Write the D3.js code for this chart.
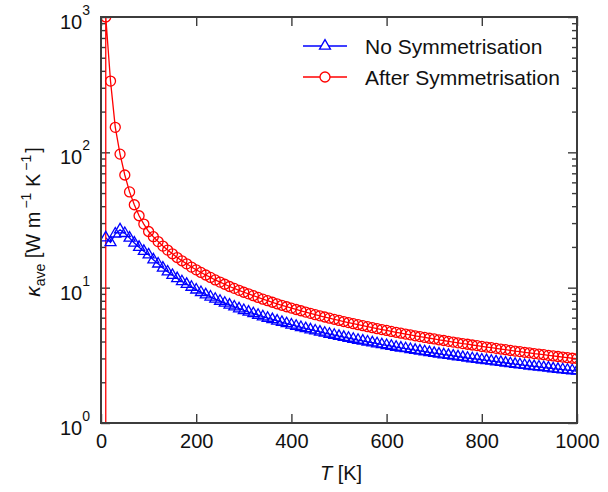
<!DOCTYPE html>
<html>
<head>
<meta charset="utf-8">
<script src="https://cdn.jsdelivr.net/npm/d3@7/dist/d3.min.js"></script>
<style>
    body { margin: 0; background: #fff; }
    svg text { font-family: Arial, "Liberation Sans", sans-serif; fill: #111; }
</style>
</head>
<body>
<div id="chart"></div>
<script>
//Datos
const temps = [10,20,30,40,50,60,70,80,90,100,110,120,130,140,150,160,170,180,190,200,
    210,220,230,240,250,260,270,280,290,300,310,320,330,340,350,360,370,380,390,400,
    410,420,430,440,450,460,470,480,490,500,510,520,530,540,550,560,570,580,590,600,
    610,620,630,640,650,660,670,680,690,700,710,720,730,740,750,760,770,780,790,800,
    810,820,830,840,850,860,870,880,890,900,910,920,930,940,950,960,970,980,990,1000];

const kappaNoSym = [23.4,21.6,25.0,26.8,25.2,23.3,21.4,19.9,18.6,17.5,16.1,15.0,14.0,13.1,12.35,11.7,11.1,10.6,10.1,9.64,
    9.24,8.88,8.55,8.24,7.96,7.70,7.45,7.22,7.00,6.80,6.61,6.44,6.27,6.11,5.96,5.82,5.68,5.55,5.43,5.31,
    5.20,5.09,4.99,4.89,4.80,4.71,4.62,4.54,4.46,4.38,4.31,4.24,4.17,4.10,4.04,3.98,3.92,3.86,3.80,3.75,
    3.70,3.64,3.59,3.55,3.50,3.45,3.41,3.37,3.32,3.28,3.24,3.20,3.17,3.13,3.09,3.06,3.02,2.99,2.96,2.93,
    2.90,2.87,2.84,2.81,2.78,2.75,2.72,2.70,2.67,2.64,2.62,2.60,2.57,2.55,2.52,2.50,2.48,2.46,2.44,2.42];

//La serie simetrizada empieza con un valor nulo en T = 10 K (línea vertical)
const tempsSym = [10].concat(temps);
const kappaSym = [0, 1050,336,153,97,68,51,41,34,29.5,26.0,23.8,21.9,20.3,18.95,17.8,16.7,15.8,15.0,14.2,13.55,
    12.95,12.4,11.9,11.4,11.0,10.6,10.2,9.88,9.56,9.25,9.00,8.73,8.47,8.22,8.01,7.80,7.60,7.41,7.23,7.06,
    6.90,6.75,6.60,6.46,6.32,6.19,6.07,5.95,5.84,5.73,5.62,5.52,5.42,5.33,5.24,5.15,5.06,4.98,4.90,4.83,
    4.75,4.68,4.61,4.54,4.48,4.41,4.35,4.29,4.23,4.18,4.12,4.07,4.01,3.96,3.91,3.86,3.82,3.77,3.73,3.68,
    3.64,3.60,3.56,3.52,3.48,3.44,3.40,3.37,3.33,3.30,3.26,3.23,3.20,3.16,3.13,3.10,3.07,3.04,3.01,2.99];

const xTicks = [0, 200, 400, 600, 800, 1000];
const yMajor = [1, 10, 100, 1000];
const yExponents = ['0', '1', '2', '3'];
const seriesNames = ['No Symmetrisation', 'After Symmetrisation'];

//Colores fijos
const COLOR_BLUE = '#0000ff',
    COLOR_RED = '#ff0000',
    COLOR_AXIS = '#3c3c3c';

let width = 608,
    height = 492,
    margin = { top: 17, right: 31, bottom: 69, left: 101 };

let innerW = width - margin.left - margin.right,
    innerH = height - margin.top - margin.bottom;

let svg = d3.select('#chart')
    .append('svg')
        .attr('width', width)
        .attr('height', height);

let x = d3.scaleLinear().domain([0, 1000]).range([0, innerW]);
let y = d3.scaleLog().domain([1, 1000]).range([innerH, 0]).clamp(true);

let chart = svg.append('g')
    .attr('transform', 'translate(' + margin.left + ',' + margin.top + ')');

svg.append('defs').append('clipPath')
    .attr('id', 'plot-clip')
    .append('rect')
        .attr('width', innerW)
        .attr('height', innerH);

//Ejes: ticks hacia dentro en los cuatro lados
let minorTicks = y.ticks().filter(function(d) { return yMajor.indexOf(d) < 0; });

chart.append('g')
    .attr('class', 'x-axis')
    .attr('transform', 'translate(0,' + innerH + ')')
    .call(d3.axisBottom(x).tickValues(xTicks).tickFormat(d3.format('d')).tickSize(-9).tickPadding(11).tickSizeOuter(0));

chart.append('g')
    .call(d3.axisTop(x).tickValues(xTicks).tickSize(-9).tickFormat('').tickSizeOuter(0));

chart.append('g')
    .call(d3.axisLeft(y).tickValues(yMajor).tickSize(-9).tickFormat('').tickSizeOuter(0));
chart.append('g')
    .call(d3.axisLeft(y).tickValues(minorTicks).tickSize(-5).tickFormat('').tickSizeOuter(0));

chart.append('g')
    .attr('transform', 'translate(' + innerW + ',0)')
    .call(d3.axisRight(y).tickValues(yMajor).tickSize(-9).tickFormat('').tickSizeOuter(0));
chart.append('g')
    .attr('transform', 'translate(' + innerW + ',0)')
    .call(d3.axisRight(y).tickValues(minorTicks).tickSize(-5).tickFormat('').tickSizeOuter(0));

chart.selectAll('.domain').remove();
chart.selectAll('.tick line').attr('stroke', COLOR_AXIS).attr('stroke-width', 1.4);
chart.selectAll('.x-axis text')
    .attr('font-size', '20px')
    .attr('fill', '#111');

//Etiquetas del eje y: 10^n
let yLabels = chart.selectAll('.ylabel')
    .data(yMajor)
    .enter()
    .append('text')
    .attr('class', 'ylabel')
    .attr('text-anchor', 'end')
    .attr('x', -11)
    .attr('y', function(d) { return y(d) + 12; });

yLabels.append('tspan')
    .attr('font-size', '20px')
    .text('10');
yLabels.append('tspan')
    .attr('font-size', '14px')
    .attr('dy', -14)
    .text(function(d, i) { return yExponents[i]; });

//Series
let plot = chart.append('g').attr('clip-path', 'url(#plot-clip)');

let line = d3.line()
    .x(function(d) { return x(d.T); })
    .y(function(d) { return y(d.k); });

let dataNoSym = temps.map(function(t, i) { return { T: t, k: kappaNoSym[i] }; });
let dataSym = tempsSym.map(function(t, i) { return { T: t, k: kappaSym[i] }; });

plot.append('path')
    .datum(dataNoSym)
    .attr('d', line)
    .attr('fill', 'none')
    .attr('stroke', COLOR_BLUE)
    .attr('stroke-width', 1.3);

plot.append('path')
    .datum(dataSym)
    .attr('d', line)
    .attr('fill', 'none')
    .attr('stroke', COLOR_RED)
    .attr('stroke-width', 1.3);

let triangle = d3.symbol().type(d3.symbolTriangle).size(52);

plot.selectAll('.tri')
    .data(dataNoSym)
    .enter()
    .append('path')
    .attr('d', triangle)
    .attr('transform', function(d) { return 'translate(' + x(d.T) + ',' + y(d.k) + ')'; })
    .attr('fill', 'none')
    .attr('stroke', COLOR_BLUE)
    .attr('stroke-width', 1.3);

plot.selectAll('.circ')
    .data(dataSym.filter(function(d) { return d.k > 0; }))
    .enter()
    .append('circle')
    .attr('cx', function(d) { return x(d.T); })
    .attr('cy', function(d) { return y(d.k); })
    .attr('r', 5)
    .attr('fill', 'none')
    .attr('stroke', COLOR_RED)
    .attr('stroke-width', 1.3);

//Marco
chart.append('rect')
    .attr('width', innerW)
    .attr('height', innerH)
    .attr('fill', 'none')
    .attr('stroke', COLOR_AXIS)
    .attr('stroke-width', 2);

//Leyenda
let legend = svg.append('g').attr('transform', 'translate(303,46)');
let legendColors = [COLOR_BLUE, COLOR_RED];

legendColors.forEach(function(c, i) {
    let row = legend.append('g').attr('transform', 'translate(0,' + (i * 31) + ')');
    row.append('line')
        .attr('x1', 0).attr('x2', 44)
        .attr('stroke', c)
        .attr('stroke-width', 1.3);
    if (i == 0) {
        row.append('path')
            .attr('d', triangle)
            .attr('transform', 'translate(22,0)')
            .attr('fill', '#fff')
            .attr('stroke', c)
            .attr('stroke-width', 1.3);
    } else {
        row.append('circle')
            .attr('cx', 22).attr('r', 5)
            .attr('fill', '#fff')
            .attr('stroke', c)
            .attr('stroke-width', 1.3);
    }
    row.append('text')
        .attr('x', 62)
        .attr('dy', '0.36em')
        .attr('font-size', '21px')
        .text(seriesNames[i]);
});

//Títulos de los ejes
let xTitle = svg.append('text')
    .attr('x', margin.left + innerW / 2 + 2)
    .attr('y', 480)
    .attr('text-anchor', 'middle')
    .attr('font-size', '20px');
xTitle.append('tspan').attr('font-style', 'italic').text('T');
xTitle.append('tspan').text(' [K]');

let yTitle = svg.append('text')
    .attr('transform', 'translate(39.5,' + (margin.top + innerH / 2 + 2) + ') rotate(-90)')
    .attr('text-anchor', 'middle')
    .attr('font-size', '20px');
yTitle.append('tspan').attr('font-style', 'italic').attr('font-size', '21px').text('κ');
yTitle.append('tspan').attr('font-size', '14px').attr('dy', 5).text('ave');
yTitle.append('tspan').attr('dy', -5).text(' [W m');
yTitle.append('tspan').attr('font-size', '14px').attr('dy', -9).attr('dx', 3).text('−1');
yTitle.append('tspan').attr('dy', 9).text(' K');
yTitle.append('tspan').attr('font-size', '14px').attr('dy', -9).attr('dx', 3).text('−1');
yTitle.append('tspan').attr('dy', 9).attr('dx', 2).text(']');
</script>
</body>
</html>
